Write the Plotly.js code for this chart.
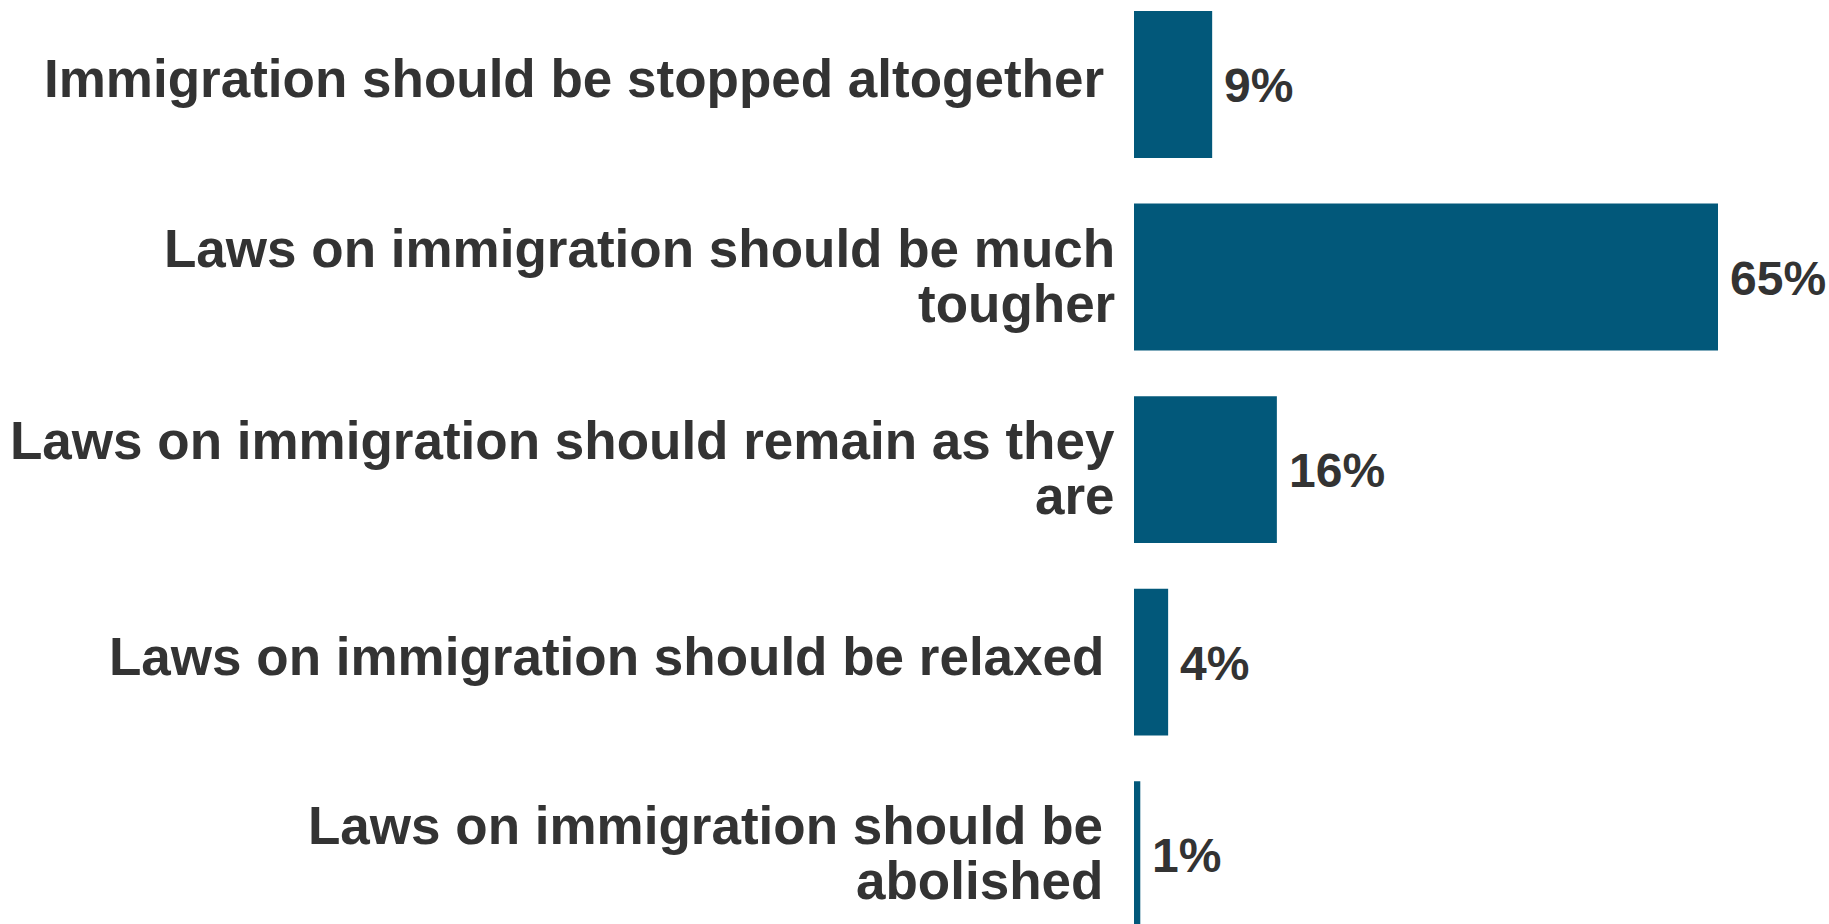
<!DOCTYPE html>
<html>
<head>
<meta charset="utf-8">
<script src="https://cdn.plot.ly/plotly-3.0.1.min.js"></script>
<style>
  html, body { margin: 0; padding: 0; background: #ffffff; }
  #chart { width: 1829px; height: 924px; }
</style>
</head>
<body>
<div id="chart"></div>
<script>
// ---- data ----
const categories = [
  "Immigration should be stopped altogether",
  "Laws on immigration should be much<br>tougher",
  "Laws on immigration should remain as they<br>are",
  "Laws on immigration should be relaxed",
  "Laws on immigration should be<br>abolished"
];
const values = [8.7, 65, 15.9, 3.8, 0.7];

// ---- style ----
const BAR_COLOR = "#02587a";
const TEXT_COLOR = "#333333";
const FONT = "Liberation Sans, Arial, sans-serif";
const LABEL_SIZE = 53;
const VALUE_SIZE = 48;
const LINE_GAP = 55;
const labelPad = [28, 17, 17, 28, 29];

const ids = categories.map((c, i) => i);

const annotations = [];
categories.forEach((cat, i) => {
  const lines = cat.split("<br>");
  const n = lines.length;
  lines.forEach((ln, j) => {
    annotations.push({
      xref: "x", yref: "y", x: 0, y: i,
      text: ln, showarrow: false,
      xanchor: "right", yanchor: "middle",
      xshift: -labelPad[i],
      yshift: -((j - (n - 1) / 2) * LINE_GAP) + (n > 1 ? 1.5 : 6),
      font: { family: FONT, size: LABEL_SIZE, color: TEXT_COLOR, weight: "bold" }
    });
  });
  annotations.push({
    xref: "x", yref: "y", x: values[i], y: i,
    text: Math.round(values[i]) + "%", showarrow: false,
    xanchor: "left", yanchor: "middle", xshift: 10, yshift: -1,
    font: { family: FONT, size: VALUE_SIZE, color: TEXT_COLOR, weight: "bold" }
  });
});

const trace = {
  type: "bar", orientation: "h",
  x: values, y: ids,
  marker: { color: BAR_COLOR },
  hoverinfo: "skip"
};

const layout = {
  width: 1829, height: 924,
  margin: { l: 1134, r: 0, t: 0, b: 0, pad: 0 },
  paper_bgcolor: "#ffffff", plot_bgcolor: "#ffffff",
  showlegend: false,
  bargap: 0.237,
  xaxis: { range: [0, 695 / (584 / 65)], visible: false, fixedrange: true },
  yaxis: { type: "linear", range: [4.36, -0.439], visible: false, fixedrange: true },
  annotations: annotations,
  font: { family: FONT, color: TEXT_COLOR }
};

Plotly.newPlot("chart", [trace], layout, { displayModeBar: false, staticPlot: true });
</script>
</body>
</html>
